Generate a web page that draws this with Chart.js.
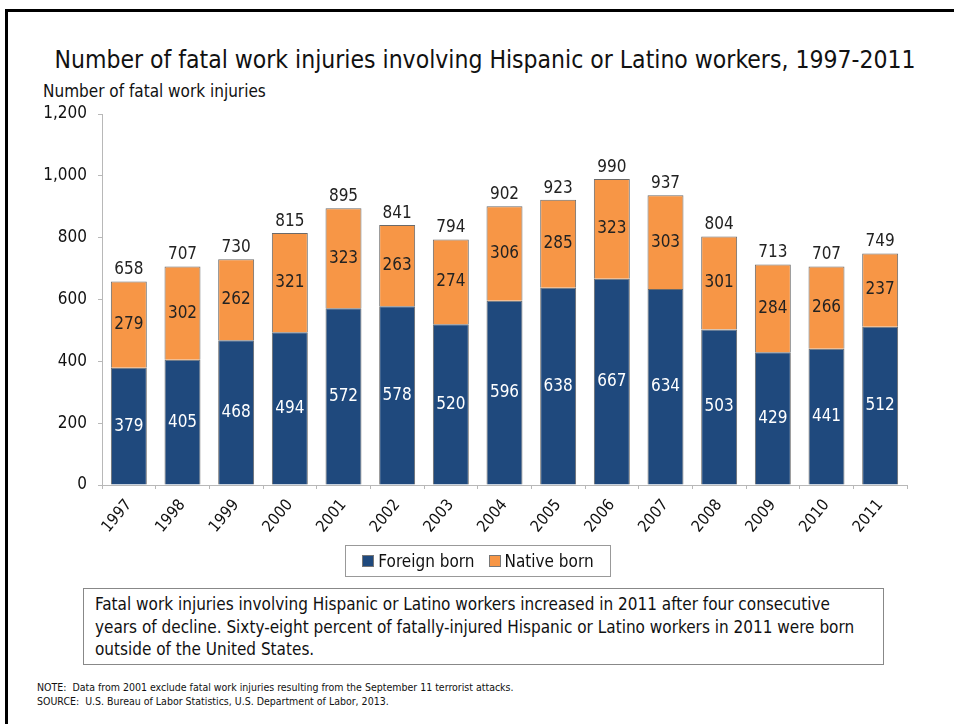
<!DOCTYPE html>
<html lang="en">
<head>
<meta charset="UTF-8">
<title>Fatal work injuries, Hispanic or Latino workers</title>
<script src="https://cdn.jsdelivr.net/npm/chart.js"></script>
<style>
    body {
        margin: 0;
        width: 954px;
        height: 724px;
        overflow: hidden;
        background: #fff;
        font-family: 'DejaVu Sans Condensed', 'DejaVu Sans', sans-serif;
        color: #111;
        position: relative;
    }
    .frame {
        position: absolute;
        left: 5px;
        top: 9px;
        width: 1000px;
        height: 1000px;
        border: 3px solid #000;
    }
    .title {
        position: absolute;
        left: 0;
        width: 970px;
        top: 45px;
        text-align: center;
        font-size: 24.5px;
        white-space: nowrap;
    }
    .ylabel {
        position: absolute;
        left: 43px;
        top: 81px;
        font-size: 17px;
    }
    .chart-box {
        position: absolute;
        left: 0;
        top: 100px;
        width: 954px;
        height: 450px;
    }
    .legend {
        position: absolute;
        left: 345px;
        top: 545px;
        width: 264px;
        height: 30px;
        border: 1px solid #999;
        display: flex;
        align-items: center;
        justify-content: center;
        font-size: 17px;
        gap: 14px;
    }
    .legend span.sw {
        display: inline-block;
        width: 10px;
        height: 10px;
        margin-right: 4px;
        border: 1px solid #777;
    }
    .note-box {
        position: absolute;
        left: 83px;
        top: 588px;
        width: 777px;
        height: 71px;
        border: 1px solid #888;
        padding: 0 11px;
        font-size: 17px;
        line-height: 22.5px;
        padding-top: 4px;
        box-sizing: content-box;
    }
    .notes {
        position: absolute;
        left: 37px;
        top: 680px;
        font-size: 10.5px;
        line-height: 14px;
    }
</style>
</head>
<body>
    <div class="frame"></div>
    <div class="title">Number of fatal work injuries involving Hispanic or Latino workers, 1997-2011</div>
    <div class="ylabel">Number of fatal work injuries</div>
    <div class="chart-box"><canvas id="injChart"></canvas></div>
    <div class="legend" id="legend"></div>
    <div class="note-box">Fatal work injuries involving Hispanic or Latino workers increased in 2011 after four consecutive years of decline. Sixty-eight percent of fatally-injured Hispanic or Latino workers in 2011 were born outside of the United States.</div>
    <div class="notes">NOTE:&nbsp; Data from 2001 exclude fatal work injuries resulting from the September 11 terrorist attacks.<br>SOURCE:&nbsp; U.S. Bureau of Labor Statistics, U.S. Department of Labor, 2013.</div>

<script>
const years = ["1997", "1998", "1999", "2000", "2001", "2002", "2003", "2004", "2005", "2006", "2007", "2008", "2009", "2010", "2011"];
const foreignBorn = [379, 405, 468, 494, 572, 578, 520, 596, 638, 667, 634, 503, 429, 441, 512];
const nativeBorn = [279, 302, 262, 321, 323, 263, 274, 306, 285, 323, 303, 301, 284, 266, 237];
const totals = [658, 707, 730, 815, 895, 841, 794, 902, 923, 990, 937, 804, 713, 707, 749];
const seriesNames = ["Foreign born", "Native born"];
const seriesColors = ["#1f497d", "#f79646"];
const labelColors = ["#ffffff", "#222222"];

const FONT = "'DejaVu Sans Condensed', 'DejaVu Sans', sans-serif";

// legend built from the series arrays
const legend = document.getElementById('legend');
seriesNames.forEach((name, i) => {
    const item = document.createElement('div');
    item.innerHTML = '<span class="sw" style="background:' + seriesColors[i] + '"></span>' + name;
    legend.appendChild(item);
});

// draws segment values inside bars and totals above them
const barLabels = {
    id: 'barLabels',
    afterDatasetsDraw(chart) {
        const ctx = chart.ctx;
        ctx.save();
        ctx.font = '17px ' + FONT;
        ctx.textAlign = 'center';
        chart.data.datasets.forEach((ds, di) => {
            const meta = chart.getDatasetMeta(di);
            meta.data.forEach((bar, i) => {
                ctx.fillStyle = labelColors[di];
                ctx.textBaseline = 'middle';
                ctx.fillText(ds.data[i], bar.x, (bar.y + bar.base) / 2);
            });
        });
        const topMeta = chart.getDatasetMeta(1);
        const yScale = chart.scales.y;
        ctx.fillStyle = '#222';
        ctx.textBaseline = 'bottom';
        topMeta.data.forEach((bar, i) => {
            ctx.fillText(totals[i], bar.x, yScale.getPixelForValue(totals[i]) - 3);
        });
        ctx.restore();
    }
};

new Chart(document.getElementById('injChart'), {
    type: 'bar',
    data: {
        labels: years,
        datasets: [
            {
                label: seriesNames[0],
                data: foreignBorn,
                backgroundColor: seriesColors[0],
                borderColor: '#6a6a6a',
                borderWidth: 1,
                categoryPercentage: 1,
                barPercentage: 0.67
            },
            {
                label: seriesNames[1],
                data: nativeBorn,
                backgroundColor: seriesColors[1],
                borderColor: '#6a6a6a',
                borderWidth: 1,
                categoryPercentage: 1,
                barPercentage: 0.67
            }
        ]
    },
    options: {
        responsive: true,
        maintainAspectRatio: false,
        animation: false,
        layout: { padding: { left: 0, right: 47, top: 14, bottom: 0 } },
        plugins: {
            legend: { display: false },
            tooltip: { enabled: false }
        },
        scales: {
            x: {
                stacked: true,
                afterFit(scale) {
                    scale.height = 65;
                    scale.paddingLeft = 0;
                    scale.paddingRight = 0;
                    scale.paddingTop = 0;
                    scale.paddingBottom = 0;
                },
                grid: {
                    drawOnChartArea: false,
                    color: '#b8b8b8',
                    tickLength: 4
                },
                border: { color: '#b8b8b8' },
                ticks: {
                    color: '#111',
                    font: { family: FONT, size: 16 },
                    maxRotation: 50,
                    minRotation: 50,
                    padding: 7
                }
            },
            y: {
                stacked: true,
                min: 0,
                max: 1200,
                afterFit(scale) {
                    scale.width = 102;
                    scale.paddingTop = 0;
                    scale.paddingBottom = 0;
                },
                grid: {
                    drawOnChartArea: false,
                    color: '#b8b8b8',
                    tickLength: 4
                },
                border: { color: '#b8b8b8' },
                ticks: {
                    stepSize: 200,
                    color: '#111',
                    font: { family: FONT, size: 17 },
                    padding: 11
                }
            }
        }
    },
    plugins: [barLabels]
});
</script>
</body>
</html>
